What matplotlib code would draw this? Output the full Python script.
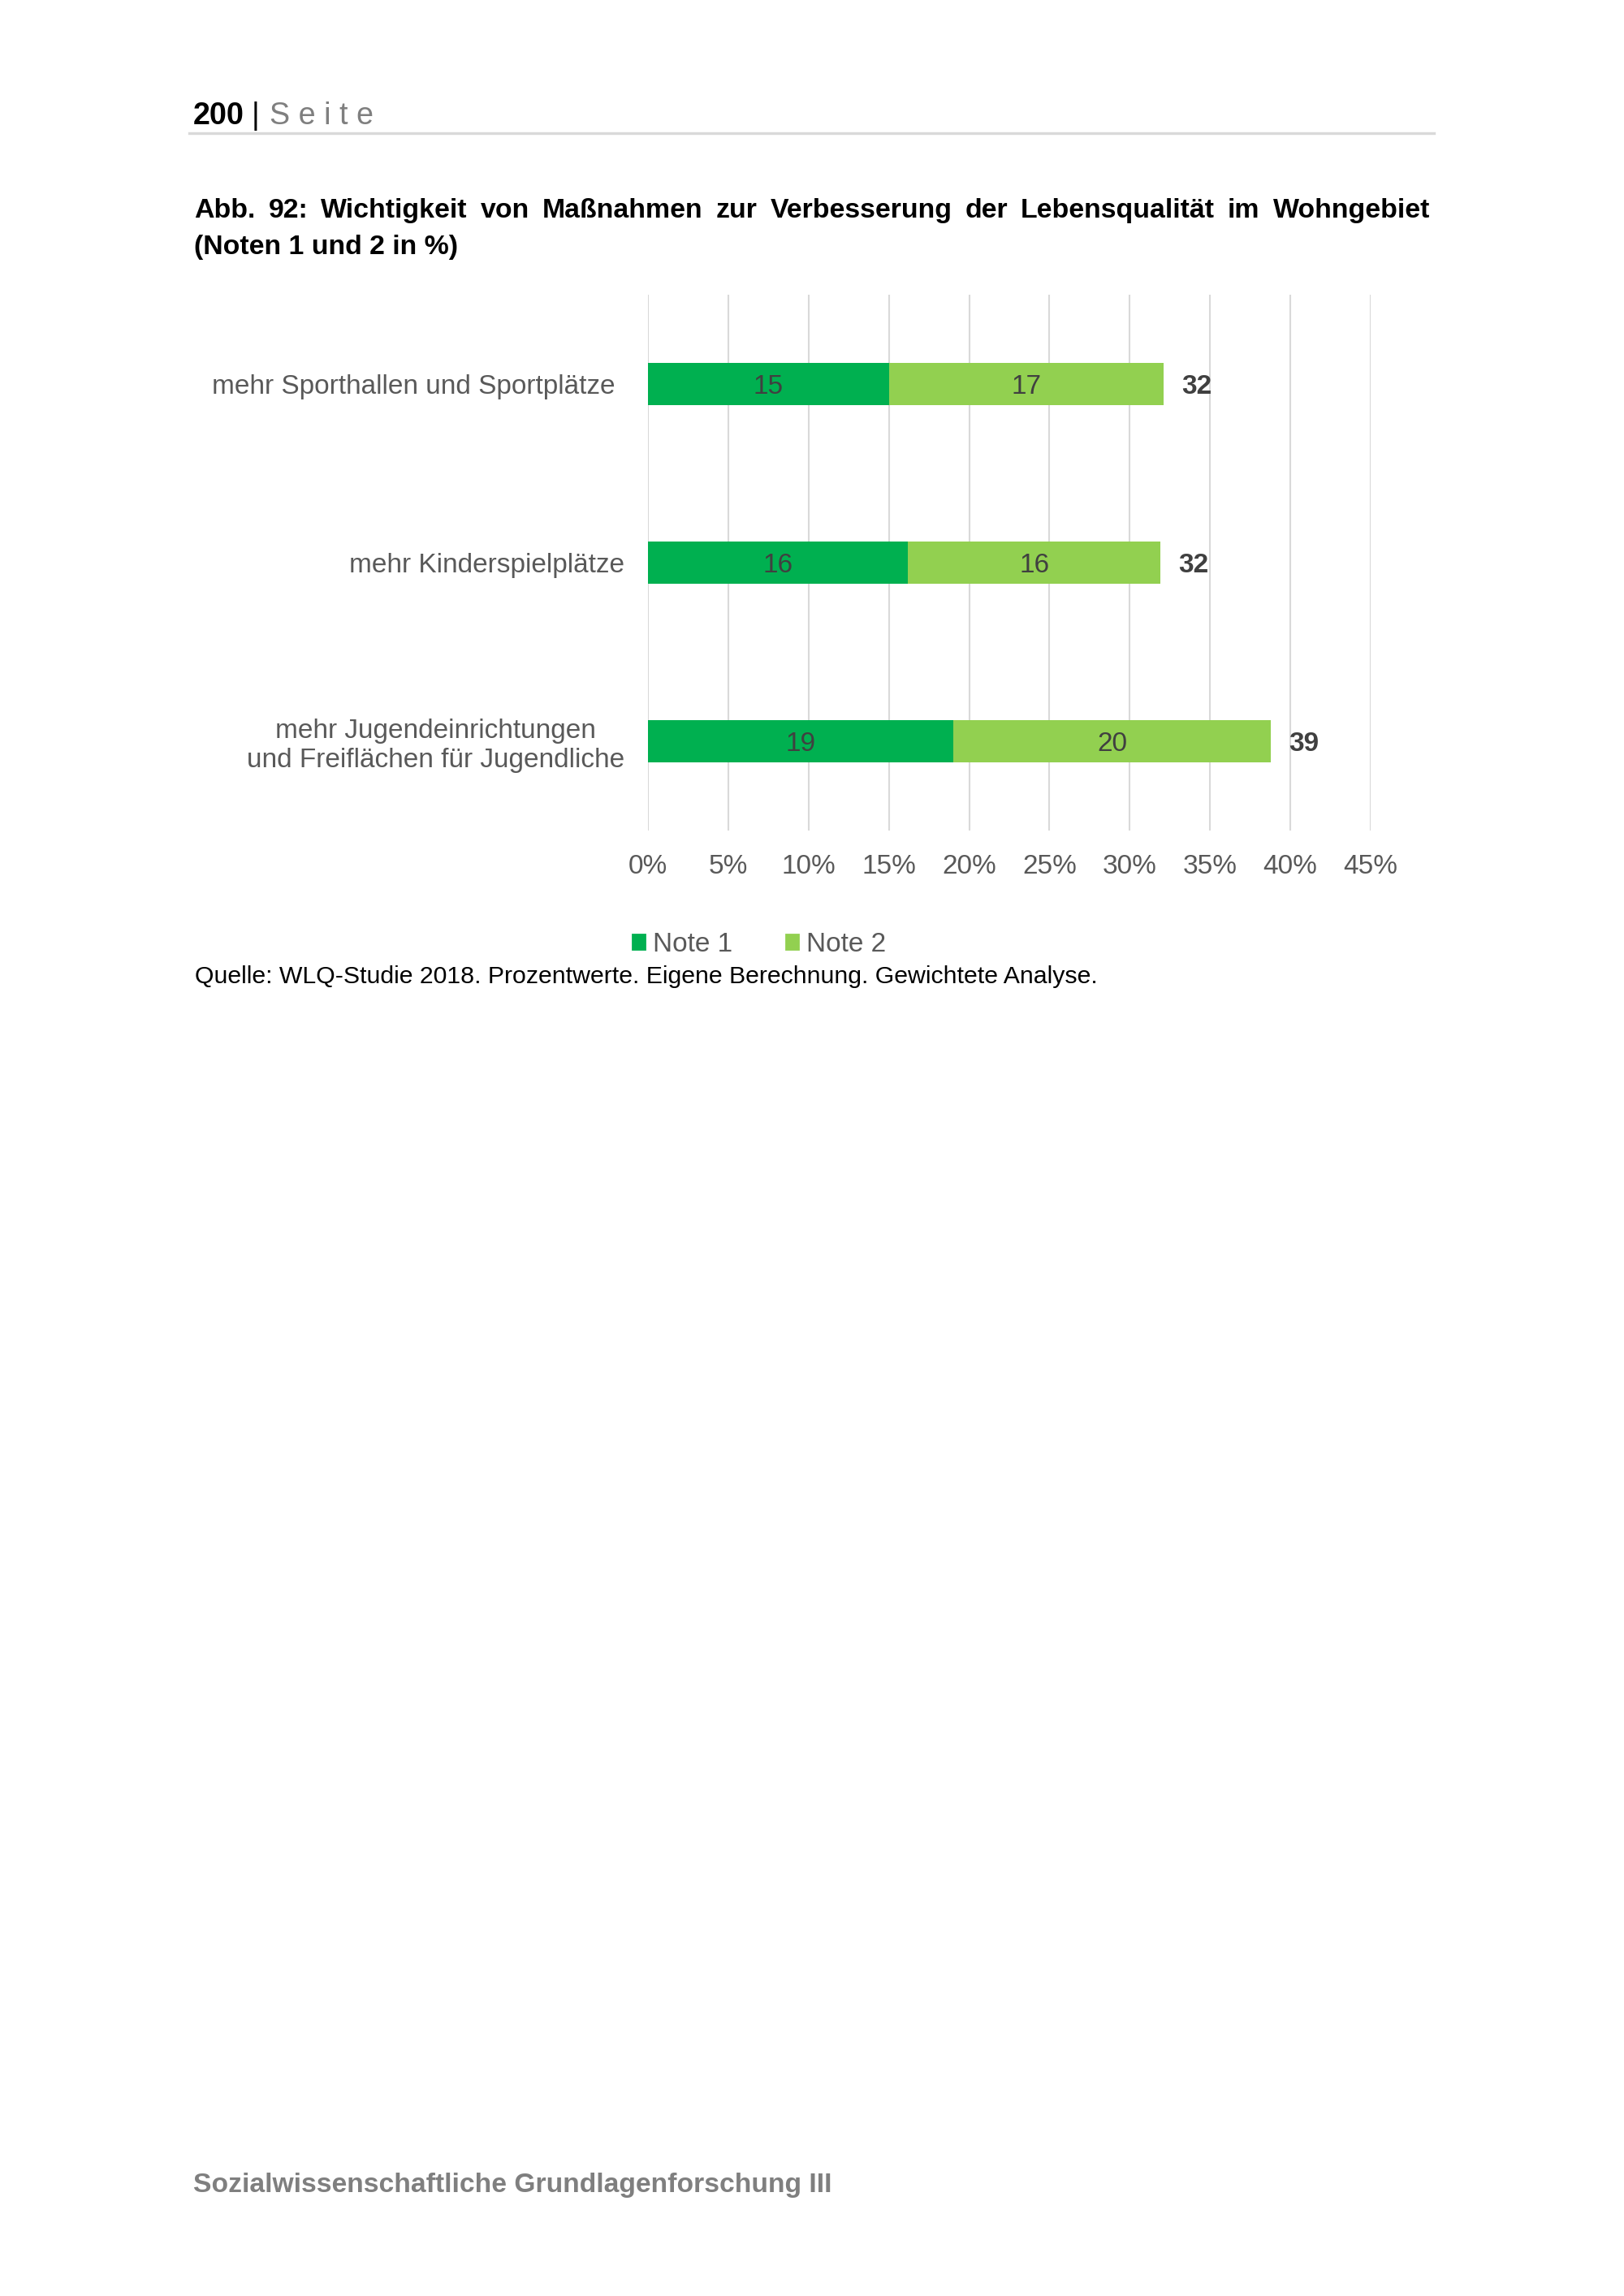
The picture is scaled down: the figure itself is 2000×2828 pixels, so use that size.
import matplotlib
matplotlib.use("Agg")
import matplotlib.pyplot as plt
from matplotlib.patches import Patch
from matplotlib.transforms import ScaledTranslation

plt.rcParams['font.family'] = ['Liberation Sans', 'DejaVu Sans']

W, H = 2000, 2828

categories = ["mehr Sporthallen und Sportplätze",
              "mehr Kinderspielplätze",
              "mehr Jugendeinrichtungen\nund Freiflächen für Jugendliche"]
note1 = [15.0, 16.2, 19.0]
note2 = [17.1, 15.7, 19.8]
series_names = ["Note 1", "Note 2"]
x_ticks = [0, 5, 10, 15, 20, 25, 30, 35, 40, 45]

title_line1 = "Abb. 92: Wichtigkeit von Maßnahmen zur Verbesserung der Lebensqualität im Wohngebiet"
title_line2 = "(Noten 1 und 2 in %)"
source = "Quelle: WLQ-Studie 2018. Prozentwerte. Eigene Berechnung. Gewichtete Analyse."
footer = "Sozialwissenschaftliche Grundlagenforschung III"

c1 = "#00B050"
c2 = "#92D050"
grey = "#595959"
fs = 12


def fx(x):
    return x / W


def fy(y):
    return 1 - y / H


fig = plt.figure(figsize=(W / 200, H / 200), dpi=200)

# page header
fig.text(fx(238), fy(153), "200", fontsize=13.6, fontweight="bold", color="black")
fig.text(fx(310), fy(153), "|", fontsize=13.6, color="black")
fig.text(fx(332), fy(153), "S e i t e", fontsize=13.6, color="#7f7f7f")
fig.add_artist(plt.Line2D([fx(233), fx(1766)], [fy(164), fy(164)],
                          color="#d9d9d9", linewidth=1.2))

# title, first line justified
r = fig.canvas.get_renderer()
words = title_line1.split()
tw = [fig.text(0, 0, w, fontsize=12.2, fontweight="bold") for w in words]
widths = [t.get_window_extent(r).width for t in tw]
gap = (1761 - 239 - sum(widths)) / (len(words) - 1)
xpos = 239
for t, w in zip(tw, widths):
    t.set_position((fx(xpos), fy(268)))
    xpos += w + gap
fig.text(fx(239), fy(313), title_line2, fontsize=12.2, fontweight="bold")

# chart
ax = fig.add_axes([fx(798), fy(1023), fx(1688) - fx(798), (1023 - 363) / H])
ypos = list(range(len(categories)))
b1 = ax.barh(ypos, note1, height=0.24, color=c1, label=series_names[0])
b2 = ax.barh(ypos, note2, left=note1, height=0.24, color=c2, label=series_names[1])

lbls = []
lbls += ax.bar_label(b1, fmt="%.0f", label_type="center", fontsize=fs, color="#404040")
lbls += ax.bar_label(b2, fmt="%.0f", label_type="center", fontsize=fs, color="#404040")
totals = [a + b for a, b in zip(note1, note2)]
lbls += ax.bar_label(b2, labels=["%.0f" % t for t in totals], padding=8,
                     fontsize=fs, fontweight="bold", color="#404040")
for t in lbls:
    t.set_verticalalignment("center_baseline")

ax.set_xlim(0, 45)
ax.set_ylim(2.5, -0.5)
ax.set_xticks(x_ticks)
ax.set_xticklabels([f"{t}%" for t in x_ticks])
ax.set_yticks(ypos)
ax.set_yticklabels(categories)
ax.tick_params(axis="both", length=0, labelsize=fs, labelcolor=grey)
ax.tick_params(axis="x", pad=10.5)
ax.tick_params(axis="y", pad=10.5)
for t in ax.get_yticklabels():
    t.set_multialignment("center")
# first label sits a little further left in the original
first = ax.get_yticklabels()[0]
first.set_transform(first.get_transform() + ScaledTranslation(-11 / 200, 0, fig.dpi_scale_trans))
ax.grid(axis="x", color="#d9d9d9", linewidth=0.75)
ax.set_axisbelow(True)
for s in ax.spines.values():
    s.set_visible(False)

handles = [Patch(color=c1, label=series_names[0]), Patch(color=c2, label=series_names[1])]
leg = fig.legend(handles=handles, loc="center", bbox_to_anchor=(fx(935), fy(1163)),
                 ncol=2, frameon=False, fontsize=fs, handlelength=0.45, handleheight=0.45,
                 handletextpad=0.3, columnspacing=2.0)
for t in leg.get_texts():
    t.set_color(grey)

fig.text(fx(240), fy(1211), source, fontsize=10.9, color="black")

# page footer
fig.text(fx(238), fy(2700), footer, fontsize=12.1, fontweight="bold", color="#7f7f7f")

fig.savefig("out.png", dpi=200)
